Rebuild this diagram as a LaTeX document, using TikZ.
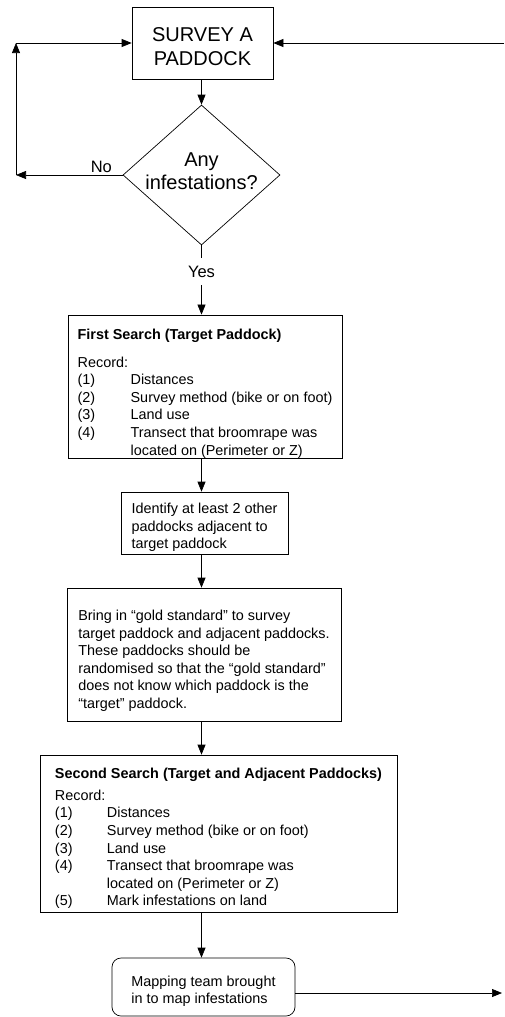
\documentclass[tikz,border=0pt]{standalone}
\usepackage{fontspec}
\setmainfont{Liberation Sans}
\usetikzlibrary{arrows.meta,shapes.geometric}
\begin{document}
\begin{tikzpicture}[x=1pt,y=-1pt,
  box/.style={draw, line width=0.7pt, inner sep=0pt, align=left,
    font={\fontsize{14.4}{17.6}\selectfont}},
  arr/.style={-{Triangle[length=10pt,width=8pt]}, line width=0.7pt},
  lbl/.style={font={\fontsize{16.5}{20}\selectfont}, inner sep=1.5pt}]
\useasboundingbox (0,0) rectangle (504,1017);

\node[box, align=center, font={\fontsize{20}{24}\selectfont},
  minimum width=141pt, minimum height=72pt] (survey) at (202.5,43)
  {\rule{0pt}{21.5pt}SURVEY A\\PADDOCK};
\node[draw, diamond, line width=0.7pt, minimum width=157pt, minimum height=140pt,
  inner sep=0pt] (dec) at (201.5,175) {};
\node[align=center, font={\fontsize{20}{23.5}\selectfont}, inner sep=0pt]
  (dectext) at (201.5,171) {Any\\infestations?};

\node[box, minimum width=274pt, minimum height=141pt] (first) at (205,386.5)
{\rule{0pt}{25pt}\textbf{First Search (Target Paddock)}\\[9.5pt]
Record:\\
\makebox[53pt][l]{(1)}Distances\\
\makebox[53pt][l]{(2)}Survey method (bike or on foot)\\
\makebox[53pt][l]{(3)}Land use\\
\makebox[53pt][l]{(4)}Transect that broomrape was\\
\hspace*{53pt}located on (Perimeter or Z)};

\node[box, minimum width=167pt, minimum height=62pt] (ident) at (204.5,523)
{\rule{0pt}{19pt}Identify at least 2 other\\paddocks adjacent to\\target paddock};

\node[box, minimum width=274pt, minimum height=133pt] (bring) at (204,654.5)
{\rule{0pt}{23pt}Bring in “gold standard” to survey\\
target paddock and adjacent paddocks.\\
These paddocks should be\\
randomised so that the “gold standard”\\
does not know which paddock is the\\
“target” paddock.};

\node[box, minimum width=357pt, minimum height=157pt] (second) at (218.5,833.5)
{\rule{0pt}{20pt}\textbf{Second Search (Target and Adjacent Paddocks)}\\[4.5pt]
Record:\\
\makebox[52pt][l]{(1)}Distances\\
\makebox[52pt][l]{(2)}Survey method (bike or on foot)\\
\makebox[52pt][l]{(3)}Land use\\
\makebox[52pt][l]{(4)}Transect that broomrape was\\
\hspace*{52pt}located on (Perimeter or Z)\\
\makebox[52pt][l]{(5)}Mark infestations on land};

\node[box, rounded corners=9pt, minimum width=183pt, minimum height=58pt] (map)
  at (203.5,987) {\rule{0pt}{19pt}Mapping team brought\\in to map infestations};

\coordinate (nol) at (16,175);
\coordinate (notop) at (16,43);
\coordinate (rtop) at (504,43);
\coordinate (rend) at (502,993);

\draw[arr] (survey.south -| dec.north) -- (dec.north);
\draw[arr] (dec.south) -- node[lbl, pos=0.38, fill=white, inner ysep=8pt] (yes) {Yes}
  (first.north -| dec.south);
\draw[arr] (dec.west) -- node[lbl, pos=0.2, anchor=south] (no) {No} (nol);
\draw[arr] (nol) -- (notop);
\draw[arr] (notop) -- (survey.west);
\draw[arr] (rtop) -- (survey.east);
\draw[arr] (first.south -| dec.south) -- (ident.north -| dec.south);
\draw[arr] (ident.south -| dec.south) -- (bring.north -| dec.south);
\draw[arr] (bring.south -| dec.south) -- (second.north -| dec.south);
\draw[arr] (second.south -| dec.south) -- (map.north -| dec.south);
\draw[arr] (map.east |- rend) -- (rend);
\end{tikzpicture}
\end{document}
